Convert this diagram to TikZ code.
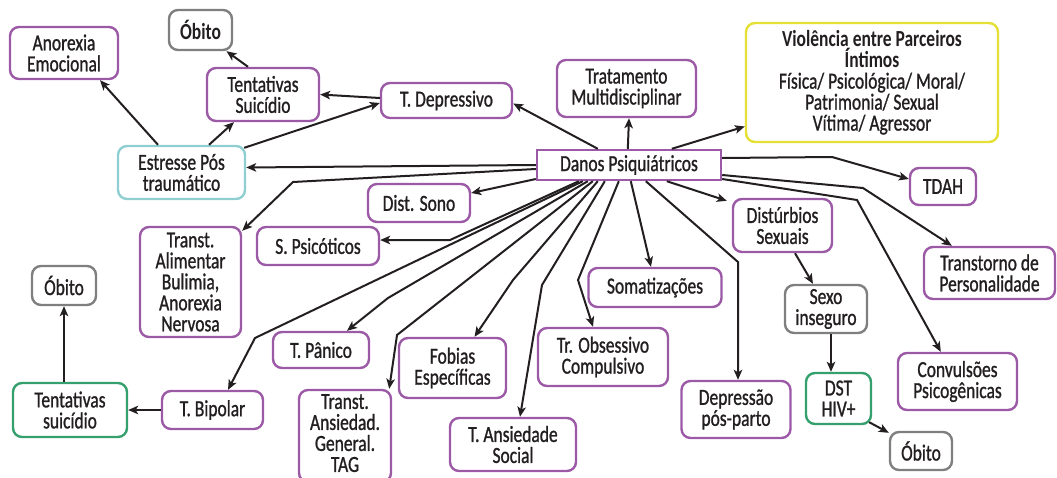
\documentclass[tikz,border=0pt]{standalone}
\usepackage{fontspec}
\setmainfont{Carlito}[FakeStretch=0.76, UprightFeatures={FakeBold=1}]
\usetikzlibrary{arrows.meta}
\definecolor{ink}{HTML}{231F20}
\definecolor{purp}{HTML}{9B59A6}
\definecolor{teal}{HTML}{8FCFD1}
\definecolor{greyb}{HTML}{7F7F7F}
\definecolor{greenb}{HTML}{35A06E}
\definecolor{yellowb}{HTML}{E5E035}
\begin{document}
\begin{tikzpicture}[x=1pt,y=-1pt,
  every node/.style={font=\fontsize{23}{21}\selectfont, text=ink},
  card/.style={draw=#1, line width=2.4pt, rounded corners=9pt, fill=white, align=center, inner sep=0pt},
  card/.default=purp,
  wh/.style 2 args={minimum width=#1pt, minimum height=#2pt},
  link/.style={draw=ink, line width=2pt, -{Stealth[length=10pt,width=8.5pt,inset=2.5pt]}}
]
\useasboundingbox (0,0) rectangle (1057,477);

% boxes
\node[card, wh={108}{52}] (anorex) at (64,53) {Anorexia\\Emocional};
\node[card=greyb, wh={63}{40}] (obito1) at (200.5,30) {\bfseries Óbito};
\node[card, wh={112}{53}] (tent1) at (263,94.5) {Tentativas\\Suicídio};
\node[card, wh={131}{35}] (tdep) at (446.5,100.5) {T. Depressivo};
\node[card, wh={139}{57}] (trat) at (626.5,88.5) {Tratamento\\Multidisciplinar};
\node[card=yellowb, wh={252}{119}] (viol) at (872,82.5)
  {\bfseries Violência entre Parceiros\\\bfseries Íntimos\\Física/ Psicológica/ Moral/\\Patrimonia/ Sexual\\Vítima/ Agressor};
\node[card=teal, wh={127}{53}] (estr) at (181.5,172.5) {Estresse Pós\\traumático};
\node[draw=purp, line width=2.4pt, fill=white, inner sep=0pt, wh={184}{30}] (danos) at (629,165) {Danos Psiquiátricos};
\node[card, wh={66}{37}] (tdah) at (943,186.5) {TDAH};
\node[card, wh={102}{38}] (sono) at (419,203) {Dist. Sono};
\node[card, wh={99}{53}] (dsex) at (782.5,225.5) {Distúrbios\\Sexuais};
\node[card, wh={101}{110}] (alim) at (190.5,282) {Transt.\\Alimentar\\Bulimia,\\Anorexia\\Nervosa};
\node[card, wh={122}{38}] (psic) at (318,246) {S. Psicóticos};
\node[card, wh={131}{52}] (pers) at (989.5,273) {Transtorno de\\Personalidade};
\node[card=greyb, wh={64}{39}] (obito2) at (64,285.5) {Óbito};
\node[card, wh={133}{39}] (soma) at (655,287.5) {Somatizações};
\node[card=greyb, wh={82}{48}] (sexo) at (826,309) {Sexo\\inseguro};
\node[card, wh={96}{36}] (panico) at (321,350) {T. Pânico};
\node[card, wh={107}{60}] (fobias) at (452.5,368) {Fobias\\Específicas};
\node[card, wh={130}{58}] (toc) at (603,357) {Tr. Obsessivo\\Compulsivo};
\node[card, wh={119}{57}] (conv) at (957.5,381.5) {Convulsões\\Psicogênicas};
\node[card=greenb, wh={114}{54}] (tent2) at (70,410) {Tentativas\\suicídio};
\node[card, wh={101}{38}] (bipolar) at (212.5,410) {T. Bipolar};
\node[card, wh={109}{57}] (depp) at (736,409.5) {Depressão\\pós-parto};
\node[card=greenb, wh={65}{51}] (dst) at (838.5,398.5) {DST\\HIV+};
\node[card, wh={92}{92}, text depth=6pt] (tag) at (345,436) {Transt.\\Ansiedad.\\General.\\TAG};
\node[card, wh={126}{53}] (social) at (513,444.5) {T. Ansiedade\\Social};
\node[card=greyb, wh={62}{38}] (obito3) at (921,451) {Óbito};

% connectors leaving the top and sides of the central box
\draw[link] ([xshift=62pt]danos.north west) -- ([yshift=-3pt]tdep.east);
\draw[link] ([xshift=92pt]danos.north west) -- ([xshift=2.5pt]trat.south);
\draw[link] ([xshift=136pt]danos.north west) -- ([yshift=-44pt]viol.west);
\draw[link] (danos.west) -- ([yshift=5pt]estr.east);
\draw[link] ([yshift=-4pt]danos.west) -- (293,182) -- ([yshift=-5pt]alim.north east);
\draw[link] ([yshift=-14pt]danos.west) -- ([yshift=10pt]sono.east);

% fan from the bottom edge
\draw[link] ([xshift=43pt]danos.south west) -- (450,240) -- ([yshift=6pt]psic.east);
\draw[link] ([xshift=47pt]danos.south west) -- (255,338) -- ([xshift=15.5pt]bipolar.north);
\draw[link] ([xshift=52pt]danos.south west) -- (388,298) -- ([xshift=26pt]panico.north);
\draw[link] ([xshift=57pt]danos.south west) -- (397,335) -- ([xshift=-3pt]tag.north east);
\draw[link] ([xshift=62pt]danos.south west) -- (513,280) -- ([xshift=22pt]fobias.north);
\draw[link] ([xshift=69pt]danos.south west) -- (542,285) -- ([xshift=7pt]social.north);
\draw[link] ([xshift=83pt]danos.south west) -- (578,280) -- ([xshift=-10pt]toc.north);
\draw[link] ([xshift=95pt]danos.south west) -- ([xshift=-4pt]soma.north);
\draw[link] ([xshift=110pt]danos.south west) -- (738,262) -- ([xshift=2pt]depp.north);
\draw[link] ([xshift=131pt]danos.south west) -- ([xshift=-5pt,yshift=-3pt]dsex.north west);

% right-hand branches
\draw[link] ([yshift=7pt]danos.east) -- (832,157) -- ([yshift=7.5pt]tdah.west);
\draw[link] ([yshift=-10pt]danos.east) -- (863,188) -- ([xshift=29pt]pers.north west);
\draw[link] ([yshift=-14pt]danos.east) -- (857,200) -- ([xshift=44pt]conv.north west);

% secondary chains
\draw[link] ([xshift=-23.5pt]estr.north) -- ([xshift=36pt]anorex.south);
\draw[link] ([xshift=27.5pt]estr.north) -- ([xshift=-29pt]tent1.south);
\draw[link] ([xshift=-2pt,yshift=-3pt]estr.north east) -- ([yshift=-2.5pt]tdep.west);
\draw[link] ([yshift=2.5pt]tdep.west) -- (tent1.east);
\draw[link] ([xshift=-15pt]tent1.north) -- ([xshift=26pt]obito1.south);
\draw[link] ([xshift=12.5pt]dsex.south) -- ([xshift=-13pt]sexo.north);
\draw[link] ([xshift=5pt]sexo.south) -- ([xshift=-7.5pt]dst.north);
\draw[link] ([xshift=-3pt,yshift=3pt]dst.south east) -- ([yshift=-2pt]obito3.north west);
\draw[link] ([xshift=-6pt]tent2.north) -- (obito2.south);
\draw[link] (bipolar.west) -- (tent2.east);
\end{tikzpicture}
\end{document}
